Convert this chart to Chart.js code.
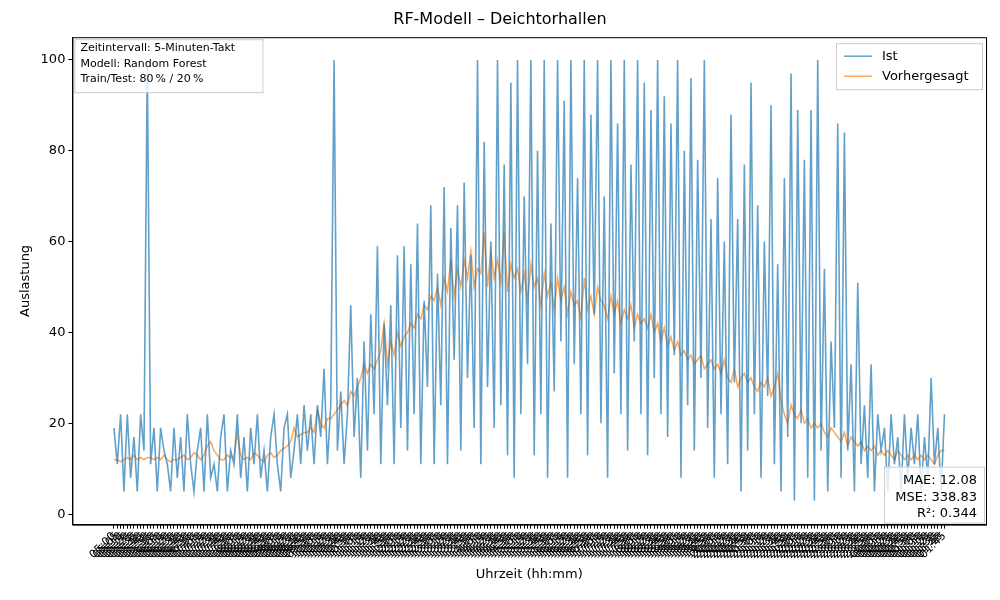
<!DOCTYPE html>
<html lang="de">
<head>
<meta charset="UTF-8">
<title>RF-Modell – Deichtorhallen</title>
<script src="https://cdn.jsdelivr.net/npm/chart.js"></script>
<style>
  body { margin: 0; background: #fff; }
  canvas { display: block; }
</style>
</head>
<body>
<canvas id="chart" width="1000" height="600"></canvas>
<script>
// Ist-Werte (Auslastung)
const ist = [
  19,11,22,5,22,8,17,5,22,14,
  100,11,19,5,19,14,11,5,19,8,
  17,5,22,11,5,14,19,5,22,8,
  11,5,17,22,5,14,11,22,8,17,
  5,19,11,22,8,14,5,17,22,11,
  5,19,22,8,14,22,11,24,14,22,
  11,24,17,32,11,24,100,14,27,11,
  22,46,17,30,8,38,14,44,22,59,
  11,42,24,46,11,57,19,59,14,55,
  22,64,11,47,28,68,11,53,24,72,
  11,63,34,68,14,73,30,57,19,100,
  11,82,28,60,19,100,24,77,13,95,
  8,100,22,70,33,100,13,80,22,100,
  8,64,27,100,38,91,8,100,33,74,
  22,100,13,88,44,100,20,70,8,100,
  31,86,22,100,14,77,38,100,22,95,
  13,89,30,100,22,92,17,86,35,100,
  8,80,24,96,14,78,30,100,19,65,
  8,74,22,60,11,88,29,65,5,77,
  14,95,22,68,8,60,26,90,11,55,
  5,74,17,97,3,89,20,78,8,89,
  3,100,14,54,5,38,19,86,8,84,
  14,33,5,51,11,24,8,33,5,22,
  14,19,5,22,11,17,5,22,8,19,
  11,22,5,17,8,30,11,19,5,22
];
// Vorhersage des Random Forest
const vorhergesagt = [
  12,12,11.5,12,12.5,12,13,12,12.5,12,
  12.5,12.5,12,12.5,12,13,12,11.5,12,12,
  12.5,13,12,12.5,13.5,13,12,13,15,16,
  14,13,12,12,13,12.5,12.5,18,13,12,
  12.5,12,13.5,13,12,11.5,13,13.5,12.5,13,
  14,14.5,15,16,19,17,17.5,18,18,19,
  18,23,20,19,21,21,22,23,24,25,
  24,27,26,28,30,33,31,33,32,34,
  36,42,33,38,35,40,37,39,40,42,
  41,44,43,46,45,48,47,50,46,52,
  49,56,48,54,50,56,52,58,50,54,
  53,62,50,58,52,56,51,62,49,55,
  52,54,49,53,47,55,50,52,46,53,
  48,51,45,52,47,50,44,49,46,47,
  43,52,45,48,44,50,47,46,43,48,
  44,47,42,45,43,46,41,44,42,43,
  41,44,40,42,38,41,37,39,36,38,
  35,36,34,35,33,34,35,32,33,34,
  32,33,31,34,30,29,32,28,30,31,
  29,30,28,27,29,28,30,26,28,31,
  25,22,20,24,22,21,23,20,21,19,
  20,19,20,18,17,19,18,17,16,18,
  15,17,16,15,16,14,15,14,15,13,
  14,13,14,13,12,14,13,12,13,12,
  13,12,13,12,13,12,11,13,14,14
];
// Uhrzeiten im 5-Minuten-Takt
const zeiten = [];
for (let i = 0; i < ist.length; i++) {
  const m = 5 * 60 + i * 5;
  zeiten.push(String(Math.floor(m / 60) % 24).padStart(2, '0') + ':' + String(m % 60).padStart(2, '0'));
}
const yTicks = [0, 20, 40, 60, 80, 100];
const infoText = ['Zeitintervall: 5-Minuten-Takt', 'Modell: Random Forest', 'Train/Test: 80\u202f% / 20\u202f%'];
const metricText = ['MAE: 12.08', 'MSE: 338.83', 'R\u00b2: 0.344'];

const blue = 'rgba(31,119,180,0.7)';
const orange = 'rgba(255,127,14,0.7)';
const font = 'DejaVu Sans';
Chart.defaults.font.family = font;
Chart.defaults.color = '#000';

function box(ctx, x, y, w, h) {
  ctx.save();
  ctx.fillStyle = 'rgba(255,255,255,0.8)';
  ctx.strokeStyle = '#ccc';
  ctx.lineWidth = 1;
  ctx.fillRect(x, y, w, h);
  ctx.strokeRect(x + 0.5, y + 0.5, w, h);
  ctx.restore();
}

const overlay = {
  id: 'overlay',
  afterDraw(chart) {
    const ctx = chart.ctx, a = chart.chartArea;
    ctx.save();
    // Rahmen
    ctx.strokeStyle = '#000'; ctx.lineWidth = 1;
    ctx.strokeRect(a.left + 0.5, a.top + 0.5, a.right - a.left, a.bottom - a.top);
    ctx.font = '11px ' + font;
    ctx.textBaseline = 'middle';
    // Info oben links
    box(ctx, a.left + 2, a.top + 2, 188, 53);
    ctx.fillStyle = '#000';
    infoText.forEach((t, i) => ctx.fillText(t, a.left + 8, a.top + 11 + i * 15.5));
    // Metriken unten rechts
    box(ctx, a.right - 102, a.bottom - 58, 100, 56);
    ctx.font = '13px ' + font;
    ctx.textAlign = 'right';
    metricText.forEach((t, i) => ctx.fillText(t, a.right - 9, a.bottom - 44 + i * 16.5));
    // Legende oben rechts
    ctx.textAlign = 'left';
    box(ctx, a.right - 150, a.top + 6, 146, 46);
    [['Ist', blue], ['Vorhergesagt', orange]].forEach(([t, c], i) => {
      const y = a.top + 19 + i * 20;
      ctx.strokeStyle = c; ctx.lineWidth = 1.5;
      ctx.beginPath(); ctx.moveTo(a.right - 142, y); ctx.lineTo(a.right - 114, y); ctx.stroke();
      ctx.fillStyle = '#000';
      ctx.fillText(t, a.right - 104, y);
    });
    ctx.restore();
  }
};

new Chart(document.getElementById('chart'), {
  type: 'line',
  data: {
    datasets: [
      { label: 'Ist', data: ist.map((v, i) => ({ x: i, y: v })), borderColor: blue, borderWidth: 1.6, pointRadius: 0, tension: 0 },
      { label: 'Vorhergesagt', data: vorhergesagt.map((v, i) => ({ x: i, y: v })), borderColor: orange, borderWidth: 1.5, pointRadius: 0, tension: 0 }
    ]
  },
  options: {
    responsive: false,
    animation: false,
    devicePixelRatio: 1,
    layout: { padding: { left: 14, right: 14, top: 6, bottom: 14 } },
    plugins: {
      legend: { display: false },
      tooltip: { enabled: false },
      title: { display: true, text: 'RF-Modell – Deichtorhallen', font: { size: 16, weight: 'normal' }, padding: { top: 4, bottom: 8 } }
    },
    scales: {
      x: {
        type: 'linear',
        min: -0.05 * (ist.length - 1),
        max: 1.05 * (ist.length - 1),
        afterBuildTicks: ax => { ax.ticks = zeiten.map((_, i) => ({ value: i })); },
        ticks: { autoSkip: false, maxRotation: 45, minRotation: 45, font: { size: 11 }, padding: 1, callback: v => zeiten[v] },
        grid: { drawOnChartArea: false, color: '#000', tickLength: 4 },
        border: { color: '#000' },
        title: { display: true, text: 'Uhrzeit (hh:mm)', font: { size: 13 } }
      },
      y: {
        min: -2.3,
        max: 105,
        afterBuildTicks: ax => { ax.ticks = yTicks.map(v => ({ value: v })); },
        ticks: { font: { size: 13 } },
        grid: { drawOnChartArea: false, color: '#000', tickLength: 4 },
        border: { color: '#000' },
        title: { display: true, text: 'Auslastung', font: { size: 13 } }
      }
    }
  },
  plugins: [overlay]
});
</script>
</body>
</html>
